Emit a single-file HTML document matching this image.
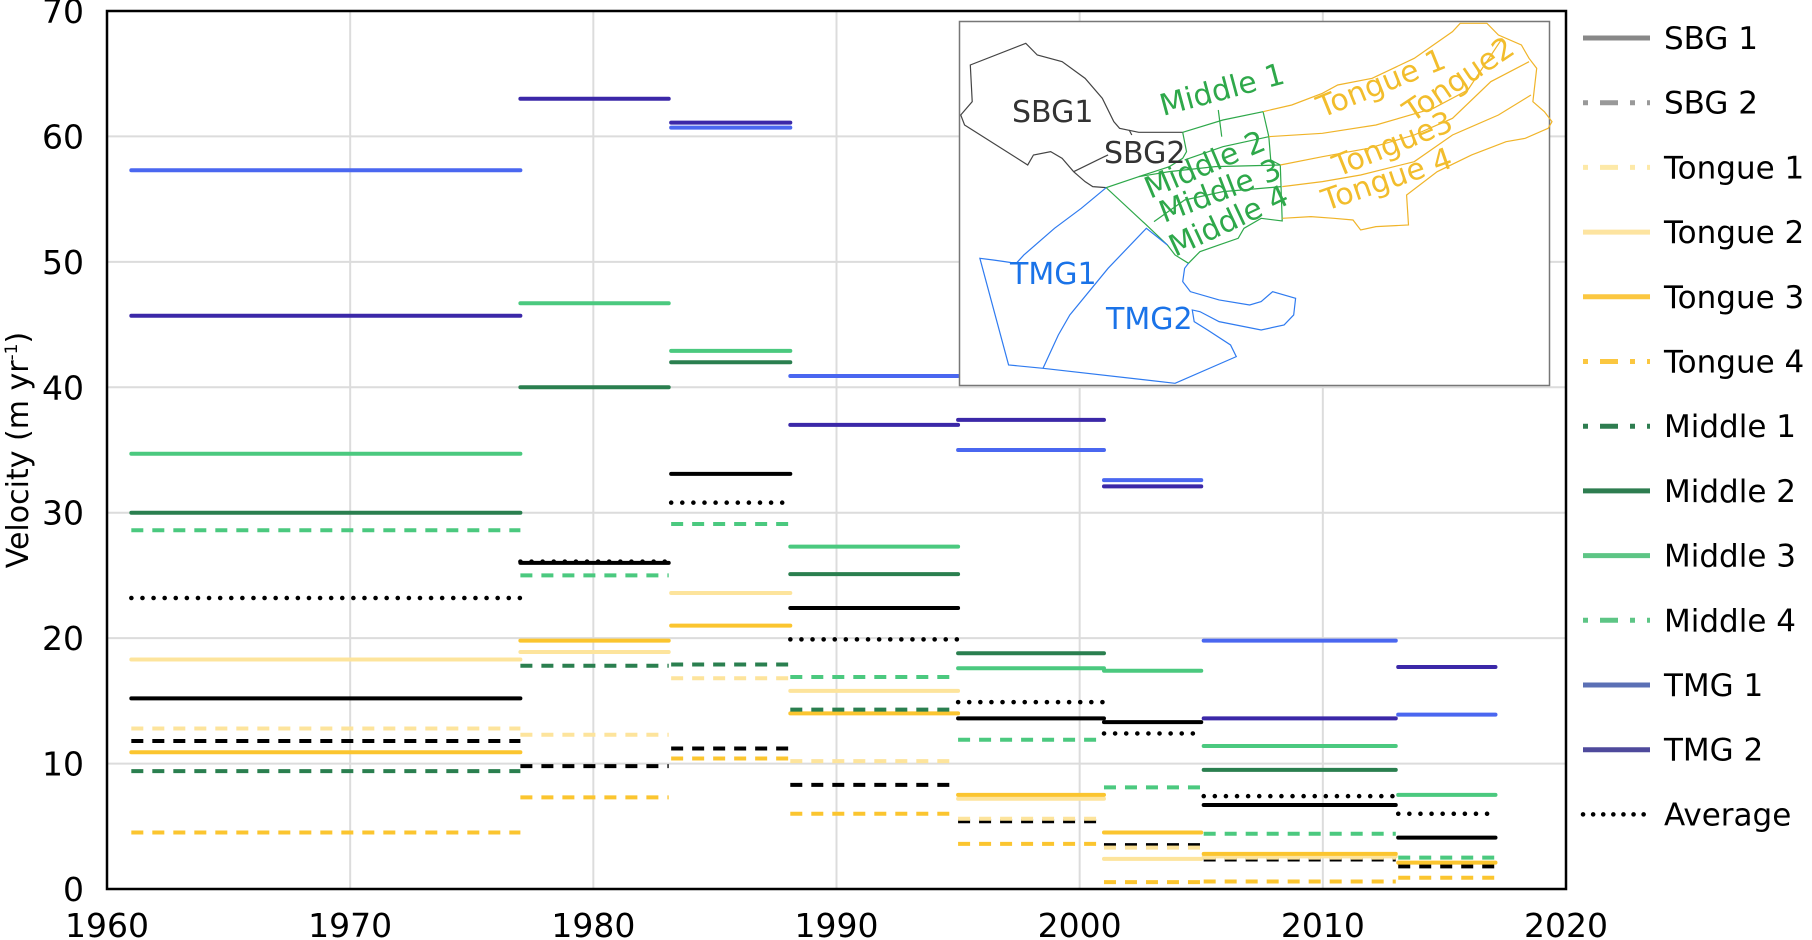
<!DOCTYPE html>
<html><head><meta charset="utf-8">
<style>
html,body{margin:0;padding:0;background:#fff;}
svg{display:block;font-family:"DejaVu Sans","Liberation Sans",sans-serif;}
</style></head>
<body>
<svg id="chart" width="1812" height="940" viewBox="0 0 1812 940">
  <g id="grid"></g>
  <g id="series"></g>
  <rect x="107" y="11" width="1459" height="878" fill="none" stroke="#000" stroke-width="2.5"/>
  <g id="yticks"></g>
  <g id="xticks"></g>
  <text transform="translate(28,450) rotate(-90)" text-anchor="middle" font-size="30">Velocity (m yr<tspan font-size="17" dy="-11">-1</tspan><tspan dy="11">)</tspan></text>

  <g>
    <rect x="959.5" y="21.5" width="590" height="364" fill="#fff" stroke="#777" stroke-width="1.5"/>
    <g transform="translate(955,15) scale(0.3827,0.3333)" fill="none" stroke-width="1.2">
      <g stroke="#444">
        <polyline vector-effect="non-scaling-stroke" points="395,518 360,515 340,500 310,470 280,430 250,410 205,420 190,450 25,330 15,300 45,260 40,150 185,85 215,120 280,140 340,190 385,250 415,320 430,340 480,352 595,352"/>
        <polyline vector-effect="non-scaling-stroke" points="310,470 390,425 400,420"/>
        <polyline vector-effect="non-scaling-stroke" points="455,345 462,360"/>
      </g>
      <g stroke="#2ea84a">
        <polyline vector-effect="non-scaling-stroke" points="595,352 700,315 805,290 820,365 825,435 850,450 855,618 800,610 755,640 740,670 690,690 640,710 610,745 575,720 555,690 500,630 395,518 480,485 560,455 595,430 605,410 595,352"/>
        <polyline vector-effect="non-scaling-stroke" points="600,435 700,395 820,365"/>
        <polyline vector-effect="non-scaling-stroke" points="480,485 560,470 680,455 850,450"/>
        <polyline vector-effect="non-scaling-stroke" points="520,620 600,555 700,530 852,515"/>
        <polyline vector-effect="non-scaling-stroke" points="688,285 697,365"/>
      </g>
      <g stroke="#f0b429">
        <polyline vector-effect="non-scaling-stroke" points="805,290 880,270 960,235 1000,210 1090,190 1200,130 1300,50 1320,25 1390,25 1420,60 1480,90 1500,130 1520,160 1510,260 1540,290 1560,320 1550,340 1490,370 1440,380 1350,420 1260,470 1180,540 1185,630 1100,635 1060,645 1040,615 990,610 930,605 855,610"/>
        <polyline vector-effect="non-scaling-stroke" points="820,365 960,355 1100,330 1250,280 1340,225 1430,70"/>
        <polyline vector-effect="non-scaling-stroke" points="850,450 960,425 1080,400 1200,360 1300,310 1400,200 1500,140"/>
        <polyline vector-effect="non-scaling-stroke" points="855,515 960,500 1060,480 1200,440 1300,360 1420,300 1505,240"/>
      </g>
      <g stroke="#2f7bf0">
        <polyline vector-effect="non-scaling-stroke" points="395,518 330,580 260,640 180,720 160,745 130,740 100,735 65,730 140,1050 230,1060 575,1105 735,1025 720,990 660,945 625,920 620,885 640,890 690,920 800,945 860,930 885,900 890,850 830,830 800,860 770,870 690,855 615,830 595,800 600,760 610,745"/>
        <polyline vector-effect="non-scaling-stroke" points="555,690 500,640 400,760 300,900 270,960 230,1060"/>
      </g>
    </g>
    <g font-size="30">
      <text x="1012" y="122" fill="#333">SBG1</text>
      <text x="1104" y="163" fill="#333">SBG2</text>
      <text x="1010" y="284" fill="#1a73e8">TMG1</text>
      <text x="1106" y="329" fill="#1a73e8">TMG2</text>
      <g fill="#2ea84a">
        <text transform="translate(1163,116) rotate(-15)">Middle 1</text>
        <text transform="translate(1150,199) rotate(-23)">Middle 2</text>
        <text transform="translate(1164,223) rotate(-21)">Middle 3</text>
        <text transform="translate(1175,257) rotate(-25)">Middle 4</text>
      </g>
      <g fill="#f2bd2c">
        <text transform="translate(1322,118) rotate(-22)">Tongue 1</text>
        <text transform="translate(1412,123) rotate(-34)">Tongue2</text>
        <text transform="translate(1338,177) rotate(-22)">Tongue3</text>
        <text transform="translate(1326,211) rotate(-19)">Tongue 4</text>
      </g>
    </g>
  </g>
  <g id="legend"></g>
</svg>
<script>
const periodStart = [1961, 1977, 1983.2, 1988.1, 1995, 2001, 2005.1, 2013.1];
const periodEnd   = [1977, 1983.1, 1988.1, 1995, 2001, 2005, 2013, 2017.1];
const seriesNames = ["SBG 1","SBG 2","Tongue 1","Tongue 2","Tongue 3","Tongue 4","Middle 1","Middle 2","Middle 3","Middle 4","TMG 1","TMG 2","Average"];
const sbg1    = [15.2, 26.0, 33.1, 22.4, 13.6, 13.3, 6.7, 4.1];
const sbg2    = [11.8, 9.8, 11.2, 8.3, 5.4, 3.5, 2.35, 1.8];
const tongue1 = [12.8, 12.3, 16.8, 10.2, 5.6, 3.3, 2.5, null];
const tongue2 = [18.3, 18.9, 23.6, 15.8, 7.2, 2.4, 2.6, null];
const tongue3 = [10.9, 19.8, 21.0, 14.0, 7.5, 4.5, 2.8, 2.1];
const tongue4 = [4.5, 7.3, 10.4, 6.0, 3.6, 0.55, 0.6, 0.9];
const middle1 = [9.4, 17.8, 17.9, 14.3, null, null, null, null];
const middle2 = [30.0, 40.0, 42.0, 25.1, 18.8, null, 9.5, null];
const middle3 = [34.7, 46.7, 42.9, 27.3, 17.6, 17.4, 11.4, 7.5];
const middle4 = [28.6, 25.0, 29.1, 16.9, 11.9, 8.1, 4.4, 2.5];
const tmg1    = [57.3, null, 60.7, 40.9, 35.0, 32.6, 19.8, 13.9];
const tmg2    = [45.7, 63.0, 61.1, 37.0, 37.4, 32.1, 13.6, 17.7];
const average = [23.2, 26.1, 30.8, 19.9, 14.9, 12.4, 7.4, 6.0];
const yTicks = [0,10,20,30,40,50,60,70];
const xTicks = [1960,1970,1980,1990,2000,2010,2020];

const NS="http://www.w3.org/2000/svg";
const X0=107, X1=1566, Y0=889, Y1=11;
function xs(v){return X0+(v-1960)/60*(X1-X0);}
function ys(v){return Y0-(v/70)*(Y0-Y1);}
function mk(tag,attrs,parent){const e=document.createElementNS(NS,tag);for(const k in attrs)e.setAttribute(k,attrs[k]);parent.appendChild(e);return e;}

const styles=[
 {c:"#000",d:null,lc:"#888"},
 {c:"#000",d:"12 9",lc:"#999"},
 {c:"#fde49c",d:"12 9",lc:"#fde9a8"},
 {c:"#fde49c",d:null,lc:"#fde4a0"},
 {c:"#fbc52f",d:null,lc:"#fbc740"},
 {c:"#fbc52f",d:"12 9",lc:"#fbc740"},
 {c:"#2a7f4f",d:"12 9",lc:"#2e7d50"},
 {c:"#2a7f4f",d:null,lc:"#2e7d50"},
 {c:"#4bc97f",d:null,lc:"#5dc585"},
 {c:"#4bc97f",d:"12 9",lc:"#5dc585"},
 {c:"#4a67f0",d:null,lc:"#5b70b5"},
 {c:"#3b28a8",d:null,lc:"#4f4a9c"},
 {c:"#000",d:"0.1 11",lc:"#000",dot:true}
];
const allSeries=[sbg1,sbg2,tongue1,tongue2,tongue3,tongue4,middle1,middle2,middle3,middle4,tmg1,tmg2,average];

const grid=document.getElementById('grid');
yTicks.forEach(t=>{
  const l=mk('line',{x1:X0,x2:X1,y1:ys(t),y2:ys(t),stroke:'#dcdcdc','stroke-width':2},grid);
  
  
  const tx=mk('text',{x:84,y:ys(t)+12,'text-anchor':'end','font-size':33},document.getElementById('yticks'));
  tx.textContent=t;
  
  
});
xTicks.forEach(t=>{
  const l=mk('line',{x1:xs(t),x2:xs(t),y1:Y0,y2:Y1,stroke:'#dcdcdc','stroke-width':2},grid);
  
  
  const tx=mk('text',{x:xs(t),y:937,'text-anchor':'middle','font-size':33},document.getElementById('xticks'));
  tx.textContent=t;
  
  
});

const sg=document.getElementById('series');
allSeries.forEach((arr,si)=>{
  const st=styles[si];
  arr.forEach((v,pi)=>{
    if(v===null)return;
    const a={x1:xs(periodStart[pi]),x2:xs(periodEnd[pi]),y1:ys(v),y2:ys(v),stroke:st.c,'stroke-width':st.dot?4.5:4,'stroke-linecap':'round'};
    if(st.d)a['stroke-dasharray']=st.d;
    if(st.d&&!st.dot)a['stroke-linecap']='butt';
    const l=mk('line',a,sg);
    
    
  });
});

const lg=document.getElementById('legend');
seriesNames.forEach((n,i)=>{
  const y=38+i*64.7;
  const st=styles[i];
  const a={x1:1583,x2:1650,y1:y,y2:y,stroke:st.lc,'stroke-width':st.dot?4.5:5};
  if(st.d)a['stroke-dasharray']=st.dot?'0.1 10':'5 12 18 12';
  if(st.dot)a['stroke-linecap']='round';
  const l=mk('line',a,lg);
  
  
  const t=mk('text',{x:1664,y:y+11,'font-size':31},lg);
  t.textContent=n;
  
  
});
</script>
</body></html>
